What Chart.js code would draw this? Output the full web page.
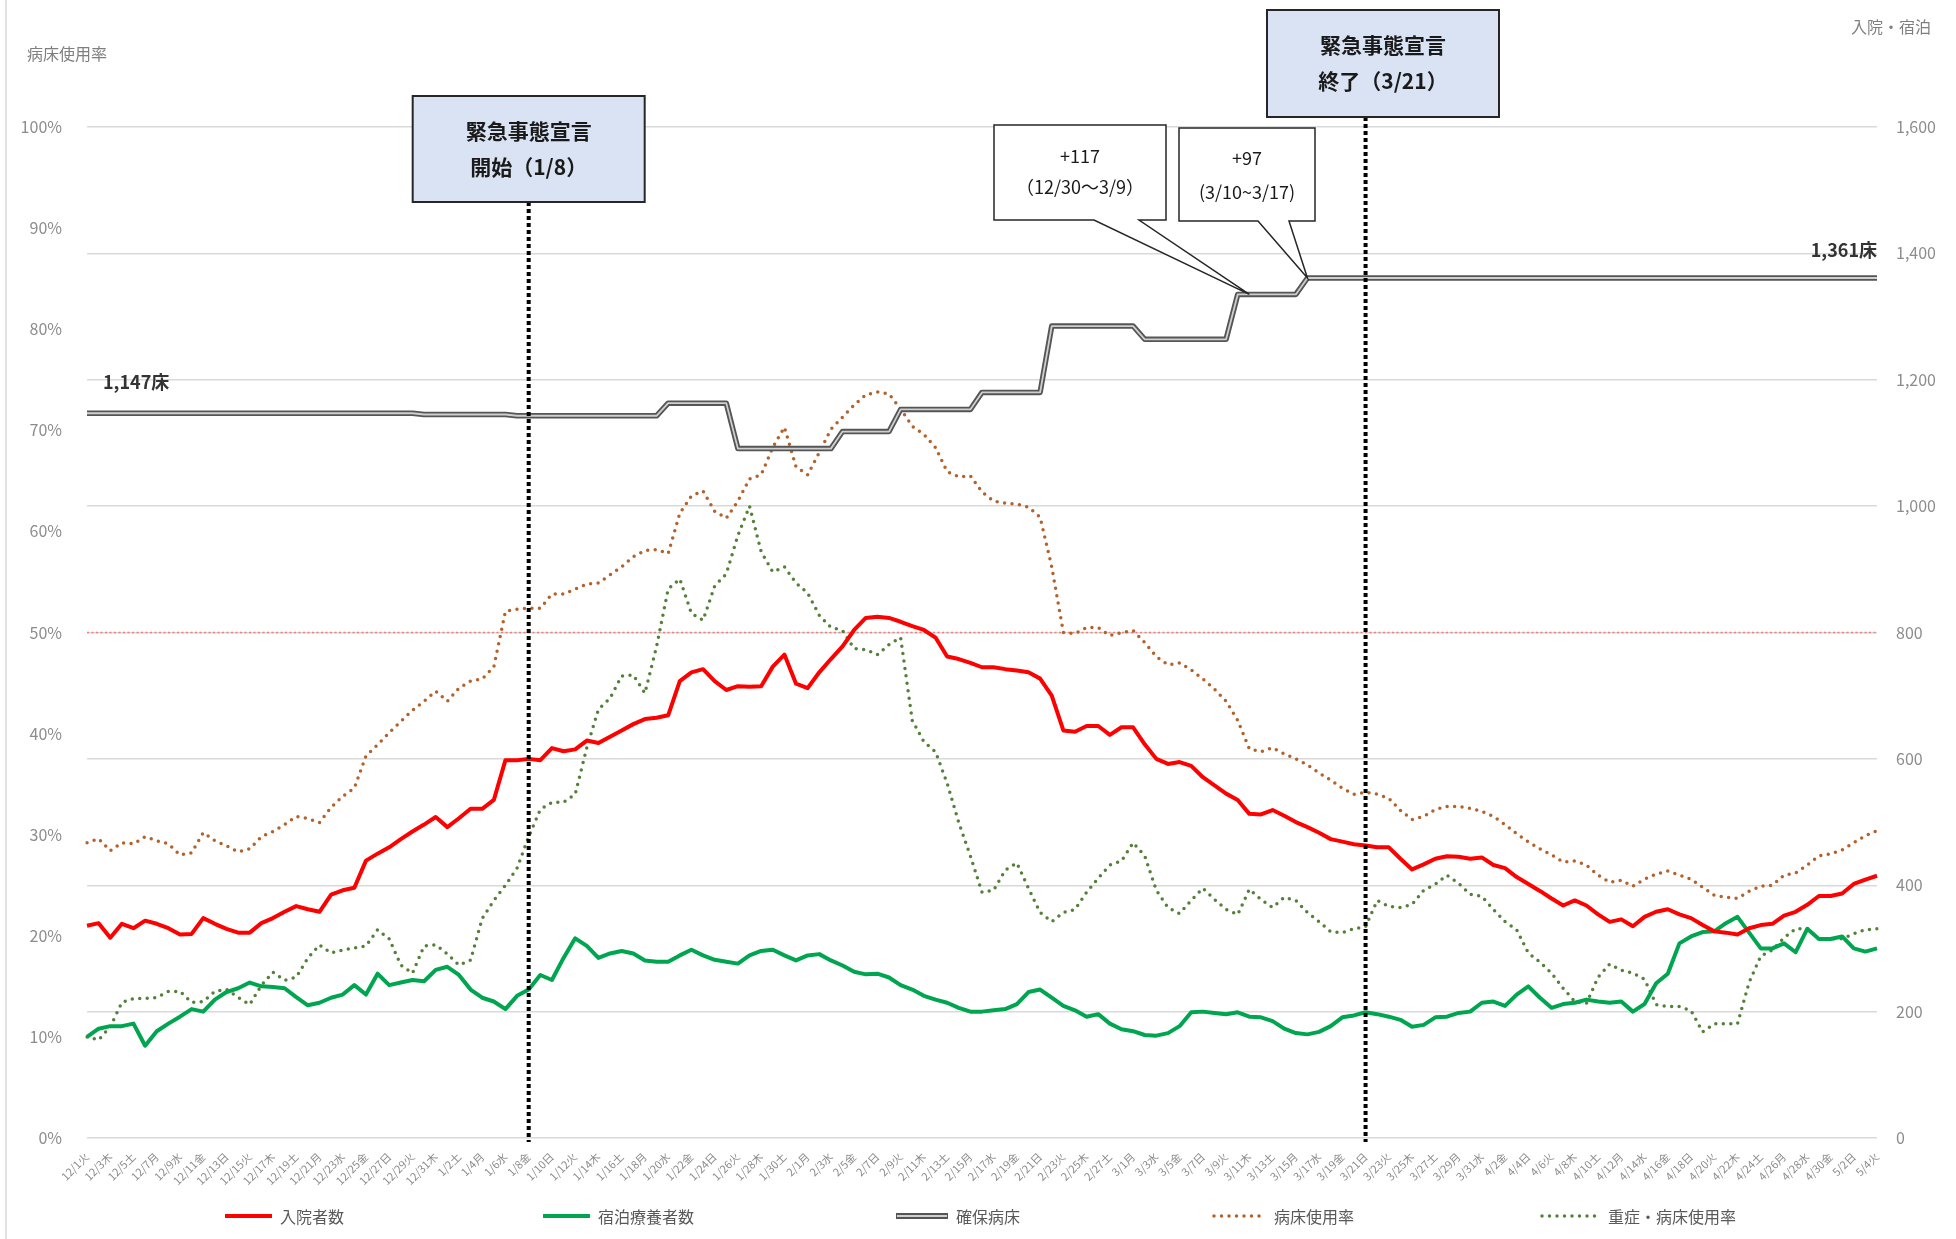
<!DOCTYPE html>
<html>
<head>
<meta charset="utf-8">
<script src="https://cdn.jsdelivr.net/npm/chart.js@4"></script>
<style>
  html, body { margin: 0; padding: 0; background: #fff; }
  #wrap { width: 1956px; height: 1239px; position: relative; }
</style>
</head>
<body>
<div id="wrap"><canvas id="grafico"></canvas></div>
<script>
// 日付 (12/1 ～ 5/4)
const categories = [
  '12/1火','12/2水','12/3木','12/4金','12/5土','12/6日','12/7月','12/8火','12/9水','12/10木',
  '12/11金','12/12土','12/13日','12/14月','12/15火','12/16水','12/17木','12/18金','12/19土','12/20日',
  '12/21月','12/22火','12/23水','12/24木','12/25金','12/26土','12/27日','12/28月','12/29火','12/30水','12/31木',
  '1/1金','1/2土','1/3日','1/4月','1/5火','1/6水','1/7木','1/8金','1/9土','1/10日',
  '1/11月','1/12火','1/13水','1/14木','1/15金','1/16土','1/17日','1/18月','1/19火','1/20水',
  '1/21木','1/22金','1/23土','1/24日','1/25月','1/26火','1/27水','1/28木','1/29金','1/30土','1/31日',
  '2/1月','2/2火','2/3水','2/4木','2/5金','2/6土','2/7日','2/8月','2/9火','2/10水',
  '2/11木','2/12金','2/13土','2/14日','2/15月','2/16火','2/17水','2/18木','2/19金','2/20土',
  '2/21日','2/22月','2/23火','2/24水','2/25木','2/26金','2/27土','2/28日',
  '3/1月','3/2火','3/3水','3/4木','3/5金','3/6土','3/7日','3/8月','3/9火','3/10水',
  '3/11木','3/12金','3/13土','3/14日','3/15月','3/16火','3/17水','3/18木','3/19金','3/20土',
  '3/21日','3/22月','3/23火','3/24水','3/25木','3/26金','3/27土','3/28日','3/29月','3/30火','3/31水',
  '4/1木','4/2金','4/3土','4/4日','4/5月','4/6火','4/7水','4/8木','4/9金','4/10土',
  '4/11日','4/12月','4/13火','4/14水','4/15木','4/16金','4/17土','4/18日','4/19月','4/20火',
  '4/21水','4/22木','4/23金','4/24土','4/25日','4/26月','4/27火','4/28水','4/29木','4/30金',
  '5/1土','5/2日','5/3月','5/4火'
];

// 入院者数 (右軸)
const admitted = [
  336,340,317,339,332,344,339,332,322,323, 348,339,331,325,325,340,348,358,367,362, 358,385,392,396,439,450,460,
  473,485,496,508,492,506,521,521,535,598, 598,600,598,617,612,615,629,625,635,645, 655,663,665,669,723,737,
  742,723,709,715,714,715,746,765,719,712, 737,758,778,804,823,825,823,817,810,804, 792,762,758,752,745,
  745,742,740,737,727,700,645,643,652,652, 638,650,650,623,600,592,595,589,571,558, 545,535,513,512,519,510,
  500,492,483,473,469,465,463,460,460,442, 425,433,442,446,445,442,444,432,427,413, 402,391,379,368,376,368,
  354,342,346,335,350,358,362,354,348,337, 327,325,322,332,337,339,352,358,369,383, 383,387,402,409,415
];

// 宿泊療養者数 (右軸)
const hotel = [
  160,173,177,177,181,146,169,181,192,204, 200,219,231,237,246,240,239,237,223,210, 214,222,227,242,227,260,242,
  246,250,248,266,271,258,235,222,216,204, 225,235,258,250,285,316,304,285,292,296, 292,281,279,279,289,298,
  289,282,279,276,289,296,298,289,281,289, 291,281,273,263,259,260,254,242,235,225, 219,214,206,200,200,
  202,204,212,231,235,222,209,202,192,196, 181,172,169,163,162,166,177,199,200,198, 196,199,192,191,185,173,
  166,164,168,177,191,194,199,196,192,187, 176,179,191,192,198,200,214,216,209,227, 240,222,206,212,214,219,
  216,214,216,200,212,245,260,308,319,326, 327,340,350,325,300,300,308,294,331,315, 315,319,300,295,300
];

// 確保病床 (右軸)
const securedBeds = [
  1147,1147,1147,1147,1147,1147,1147,1147,1147,1147, 1147,1147,1147,1147,1147,1147,1147,1147,1147,1147,
  1147,1147,1147,1147,1147,1147,1147,1147,1147,
  1145,1145,1145,1145,1145,1145,1145,1145,
  1143,1143,1143,1143,1143,1143,1143,1143,1143,1143,1143,1143,1143,
  1163,1163,1163,1163,1163,1163,
  1091,1091,1091,1091,1091,1091,1091,1091,1091,
  1118,1118,1118,1118,1118,
  1153,1153,1153,1153,1153,1153,1153,
  1180,1180,1180,1180,1180,1180,
  1285,1285,1285,1285,1285,1285,1285,1285,
  1264,1264,1264,1264,1264,1264,1264,1264,
  1335,1335,1335,1335,1335,1335,
  1361,1361,1361,1361,1361,1361,1361,1361,1361,1361, 1361,1361,1361,1361,1361,1361,1361,1361,1361,1361,
  1361,1361,1361,1361,1361,1361,1361,1361,1361,1361, 1361,1361,1361,1361,1361,1361,1361,1361,1361,1361,
  1361,1361,1361,1361,1361,1361,1361,1361,1361,1361
];

// 病床使用率 (左軸 %)
const occupancy = [
  29.2,29.6,28.4,29.2,29.1,29.8,29.4,29.1,28.0,28.2, 30.2,29.4,28.9,28.3,28.6,29.8,30.3,31.0,31.8,31.6, 31.2,32.7,33.8,34.6,37.8,38.9,40.1,
  41.2,42.3,43.2,44.2,43.2,44.5,45.2,45.4,46.6,52.1, 52.3,52.4,52.4,53.8,53.8,54.3,54.8,54.9,55.7,56.5, 57.5,58.1,58.2,57.8,61.8,63.5,
  64.0,62.0,61.3,63.0,65.2,65.6,68.3,70.3,66.4,65.6, 67.8,70.1,71.3,72.5,73.5,73.8,73.6,72.1,70.4,69.6, 68.3,65.9,65.4,65.5,63.9,
  63.0,62.8,62.7,62.4,61.4,56.5,50.0,49.9,50.5,50.5, 49.7,50.0,50.2,49.0,47.6,46.8,47.0,46.3,45.4,44.4, 43.2,41.3,38.5,38.2,38.6,38.0,
  37.5,36.9,36.1,35.4,34.6,34.0,34.2,34.0,33.6,32.4, 31.5,31.8,32.5,32.8,32.8,32.6,32.3,31.8,31.0,30.1, 29.3,28.6,28.0,27.3,27.4,27.0,
  26.0,25.3,25.5,24.9,25.6,26.1,26.4,26.0,25.6,24.8, 24.0,23.8,23.7,24.4,24.9,25.0,26.0,26.2,27.0,27.9, 28.1,28.5,29.2,29.9,30.4
];

// 重症・病床使用率 (左軸 %)
const severeOccupancy = [
  10.0,9.7,11.0,13.4,13.8,13.8,13.9,14.5,14.5,13.4, 13.5,14.5,14.7,13.9,13.2,15.1,16.4,15.6,15.9,17.8, 19.1,18.3,18.6,18.8,19.0,20.6,19.7,
  17.1,16.3,19.0,19.1,18.2,17.1,17.6,21.7,23.5,25.0, 26.7,29.8,32.5,33.2,33.2,34.0,38.6,42.4,43.5,45.7, 45.8,44.0,48.6,54.3,55.3,51.9,
  51.2,54.6,55.8,59.6,62.5,58.0,56.0,56.5,54.9,53.9, 51.7,50.5,50.2,48.4,48.3,47.8,48.8,49.5,41.3,39.2, 38.2,35.1,31.2,27.9,24.3,
  24.5,26.5,27.2,24.7,22.3,21.4,22.3,22.6,24.3,25.7, 27.0,27.4,29.2,27.9,24.5,22.8,22.2,23.5,24.7,23.6, 22.6,22.1,24.6,23.6,22.8,23.8,
  23.5,22.3,21.4,20.4,20.3,20.7,20.9,23.5,22.9,22.8, 23.1,24.5,25.1,26.0,25.2,24.1,23.9,22.6,21.4,20.6, 18.3,17.4,16.3,14.8,13.5,13.3,
  15.9,17.2,16.6,16.3,15.7,13.2,13.0,13.0,12.6,10.5, 11.3,11.3,11.3,15.4,18.0,18.6,19.8,20.7,20.7,19.7, 19.7,19.7,20.2,20.6,20.7
];

// 軸
const leftMax = 100, leftStep = 10;      // 病床使用率 %
const rightMax = 1600, rightStep = 200;  // 入院・宿泊
const thresholdPct = 50;

// 注記
const declStart = '1/8金';
const declEnd = '3/21日';

const FONT = '"Noto Sans CJK JP", "Noto Sans", sans-serif';
const RED = '#ff0000';
const GREEN = '#00a550';
const GRAY_OUT = '#555555';
const GRAY_IN = '#cfcfcf';
const BROWN = '#b4622c';
const DGREEN = '#55803a';

// 3. Sobreposições (linhas, caixas, legenda)
function textAt(ctx, txt, x, y, font, color, align) {
    ctx.font = font;
    ctx.fillStyle = color;
    ctx.textAlign = align || 'center';
    ctx.textBaseline = 'middle';
    ctx.fillText(txt, x, y);
}

function legendLine(ctx, x1, x2, y, kind) {
    ctx.save();
    ctx.lineCap = 'butt';
    if (kind === 'double') {
        ctx.strokeStyle = GRAY_OUT; ctx.lineWidth = 6;
        ctx.beginPath(); ctx.moveTo(x1, y); ctx.lineTo(x2, y); ctx.stroke();
        ctx.strokeStyle = GRAY_IN; ctx.lineWidth = 2;
        ctx.beginPath(); ctx.moveTo(x1 + 1, y); ctx.lineTo(x2 - 1, y); ctx.stroke();
    } else if (kind === RED || kind === GREEN) {
        ctx.strokeStyle = kind; ctx.lineWidth = 4;
        ctx.beginPath(); ctx.moveTo(x1, y); ctx.lineTo(x2, y); ctx.stroke();
    } else {
        ctx.strokeStyle = kind; ctx.lineWidth = 3.5; ctx.lineCap = 'round';
        ctx.setLineDash([0, 7.5]);
        ctx.beginPath(); ctx.moveTo(x1 + 2, y); ctx.lineTo(x2, y); ctx.stroke();
    }
    ctx.restore();
}

function callout(ctx, box, baseL, baseR, tip) {
    ctx.save();
    ctx.beginPath();
    ctx.moveTo(box.x, box.y);
    ctx.lineTo(box.x + box.w, box.y);
    ctx.lineTo(box.x + box.w, box.y + box.h);
    ctx.lineTo(baseR, box.y + box.h);
    ctx.lineTo(tip.x, tip.y);
    ctx.lineTo(baseL, box.y + box.h);
    ctx.lineTo(box.x, box.y + box.h);
    ctx.closePath();
    ctx.fillStyle = '#ffffff';
    ctx.fill();
    ctx.strokeStyle = '#262626';
    ctx.lineWidth = 1.5;
    ctx.stroke();
    ctx.restore();
}

const overlay = {
    id: 'overlay',
    beforeDatasetsDraw(chart) {
        const { ctx, chartArea: a, scales } = chart;
        const y = scales.yL.getPixelForValue(thresholdPct);
        ctx.save();
        ctx.strokeStyle = '#f27d7d';
        ctx.lineWidth = 1.5;
        ctx.setLineDash([2, 2.5]);
        ctx.beginPath(); ctx.moveTo(a.left, y); ctx.lineTo(a.right, y); ctx.stroke();
        ctx.restore();
    },
    afterDatasetsDraw(chart) {
        const { ctx, chartArea: a, scales } = chart;
        const xs = scales.x, yr = scales.yR;

        // linhas verticais pontilhadas
        const xStart = xs.getPixelForValue(categories.indexOf(declStart));
        const xEnd = xs.getPixelForValue(categories.indexOf(declEnd));
        ctx.save();
        ctx.strokeStyle = '#000';
        ctx.lineWidth = 4;
        ctx.setLineDash([4, 3]);
        ctx.beginPath(); ctx.moveTo(xStart, 202); ctx.lineTo(xStart, a.bottom + 4); ctx.stroke();
        ctx.beginPath(); ctx.moveTo(xEnd, 117); ctx.lineTo(xEnd, a.bottom + 4); ctx.stroke();
        ctx.restore();

        // caixas 緊急事態宣言
        const boxes = [
            { x: xStart - 116, y: 96, w: 232, h: 106, l1: '緊急事態宣言', l2: '開始（1/8）' },
            { x: 1267, y: 10, w: 232, h: 107, l1: '緊急事態宣言', l2: '終了（3/21）' }
        ];
        boxes.forEach(b => {
            ctx.save();
            ctx.fillStyle = '#dae3f3';
            ctx.fillRect(b.x, b.y, b.w, b.h);
            ctx.strokeStyle = '#262626';
            ctx.lineWidth = 2;
            ctx.strokeRect(b.x, b.y, b.w, b.h);
            ctx.restore();
            textAt(ctx, b.l1, b.x + b.w / 2, b.y + 35, 'bold 21px ' + FONT, '#1a1a1a');
            textAt(ctx, b.l2, b.x + b.w / 2, b.y + 71, 'bold 21px ' + FONT, '#1a1a1a');
        });

        // balões +117 / +97
        const i1 = 100, i2 = 105;
        const tip1 = { x: xs.getPixelForValue(i1), y: yr.getPixelForValue(securedBeds[i1]) };
        const tip2 = { x: xs.getPixelForValue(i2), y: yr.getPixelForValue(securedBeds[i2]) };
        callout(ctx, { x: 994, y: 125, w: 172, h: 95 }, 1094, 1139, tip1);
        callout(ctx, { x: 1179, y: 128, w: 136, h: 93 }, 1258, 1289, tip2);
        textAt(ctx, '+117', 1080, 156, '18px ' + FONT, '#1a1a1a');
        textAt(ctx, '（12/30～3/9）', 1080, 187, '18px ' + FONT, '#1a1a1a');
        textAt(ctx, '+97', 1247, 158, '18px ' + FONT, '#1a1a1a');
        textAt(ctx, '(3/10~3/17)', 1247, 192, '18px ' + FONT, '#1a1a1a');

        // rótulos de leitos
        const first = securedBeds[0], last = securedBeds[securedBeds.length - 1];
        textAt(ctx, first.toLocaleString('en-US') + '床', xs.getPixelForValue(0) + 16,
            yr.getPixelForValue(first) - 31, 'bold 18px ' + FONT, '#333', 'left');
        textAt(ctx, last.toLocaleString('en-US') + '床', xs.getPixelForValue(categories.length - 1),
            yr.getPixelForValue(last) - 28, 'bold 18px ' + FONT, '#333', 'right');
    },
    afterDraw(chart) {
        const { ctx } = chart;
        // moldura esquerda
        ctx.save();
        ctx.strokeStyle = '#d9d9d9';
        ctx.lineWidth = 1.5;
        ctx.beginPath(); ctx.moveTo(6, 0); ctx.lineTo(6, 1239); ctx.stroke();
        ctx.restore();

        textAt(ctx, '病床使用率', 27, 54, '16px ' + FONT, '#7f7f7f', 'left');
        textAt(ctx, '入院・宿泊', 1931, 27, '16px ' + FONT, '#7f7f7f', 'right');

        // legenda
        const ly = 1216;
        const items = [
            { t: '入院者数', x: 225, w: 47, k: RED },
            { t: '宿泊療養者数', x: 543, w: 47, k: GREEN },
            { t: '確保病床', x: 896, w: 52, k: 'double' },
            { t: '病床使用率', x: 1212, w: 54, k: BROWN },
            { t: '重症・病床使用率', x: 1540, w: 60, k: DGREEN }
        ];
        items.forEach(it => {
            legendLine(ctx, it.x, it.x + it.w, ly, it.k);
            textAt(ctx, it.t, it.x + it.w + 8, ly + 1, '16px ' + FONT, '#595959', 'left');
        });
    }
};

// 2. Gráfico
const ctx = document.getElementById('grafico');

if (ctx) {
    Chart.defaults.font.family = FONT;
    new Chart(ctx, {
        type: 'line',
        data: {
            labels: categories,
            datasets: [
                { label: '入院者数', data: admitted, yAxisID: 'yR', borderColor: RED, borderWidth: 4, order: 1 },
                { label: '宿泊療養者数', data: hotel, yAxisID: 'yR', borderColor: GREEN, borderWidth: 4, order: 2 },
                { label: '確保病床', data: securedBeds, yAxisID: 'yR', borderColor: GRAY_OUT, borderWidth: 5.5, order: 4 },
                { label: '確保病床 ', data: securedBeds, yAxisID: 'yR', borderColor: GRAY_IN, borderWidth: 1.8, order: 3 },
                { label: '病床使用率', data: occupancy, yAxisID: 'yL', borderColor: BROWN, borderWidth: 3.5,
                  borderDash: [0, 7.5], borderCapStyle: 'round', order: 5 },
                { label: '重症・病床使用率', data: severeOccupancy, yAxisID: 'yL', borderColor: DGREEN, borderWidth: 3.5,
                  borderDash: [0, 7.5], borderCapStyle: 'round', order: 6 }
            ]
        },
        options: {
            responsive: true,
            maintainAspectRatio: false,
            animation: false,
            devicePixelRatio: 1,
            layout: { padding: { top: 127, left: 0, right: 0, bottom: 0 } },
            elements: { point: { radius: 0 }, line: { tension: 0, borderJoinStyle: 'round' } },
            plugins: { legend: { display: false }, tooltip: { enabled: false } },
            scales: {
                x: {
                    offset: false,
                    grid: { display: false },
                    border: { display: false },
                    afterFit: s => { s.height = 101; },
                    ticks: {
                        autoSkip: false, maxRotation: 45, minRotation: 45, padding: 4,
                        font: { size: 11 }, color: '#8c8c8c',
                        callback: function (v, i) { return i % 2 === 0 ? this.getLabelForValue(v) : ''; }
                    }
                },
                yL: {
                    position: 'left', min: 0, max: leftMax,
                    grid: { display: false, drawTicks: false },
                    border: { display: false },
                    afterFit: s => { s.width = 87; },
                    ticks: { stepSize: leftStep, padding: 25, font: { size: 16 }, color: '#8c8c8c',
                             callback: v => v + '%' }
                },
                yR: {
                    position: 'right', min: 0, max: rightMax,
                    grid: { color: '#d9d9d9', lineWidth: 1.5, drawTicks: false },
                    border: { display: false },
                    afterFit: s => { s.width = 79; },
                    ticks: { stepSize: rightStep, padding: 19, font: { size: 16 }, color: '#8c8c8c',
                             callback: v => v.toLocaleString('en-US') }
                }
            }
        },
        plugins: [overlay]
    });
}
</script>
</body>
</html>
